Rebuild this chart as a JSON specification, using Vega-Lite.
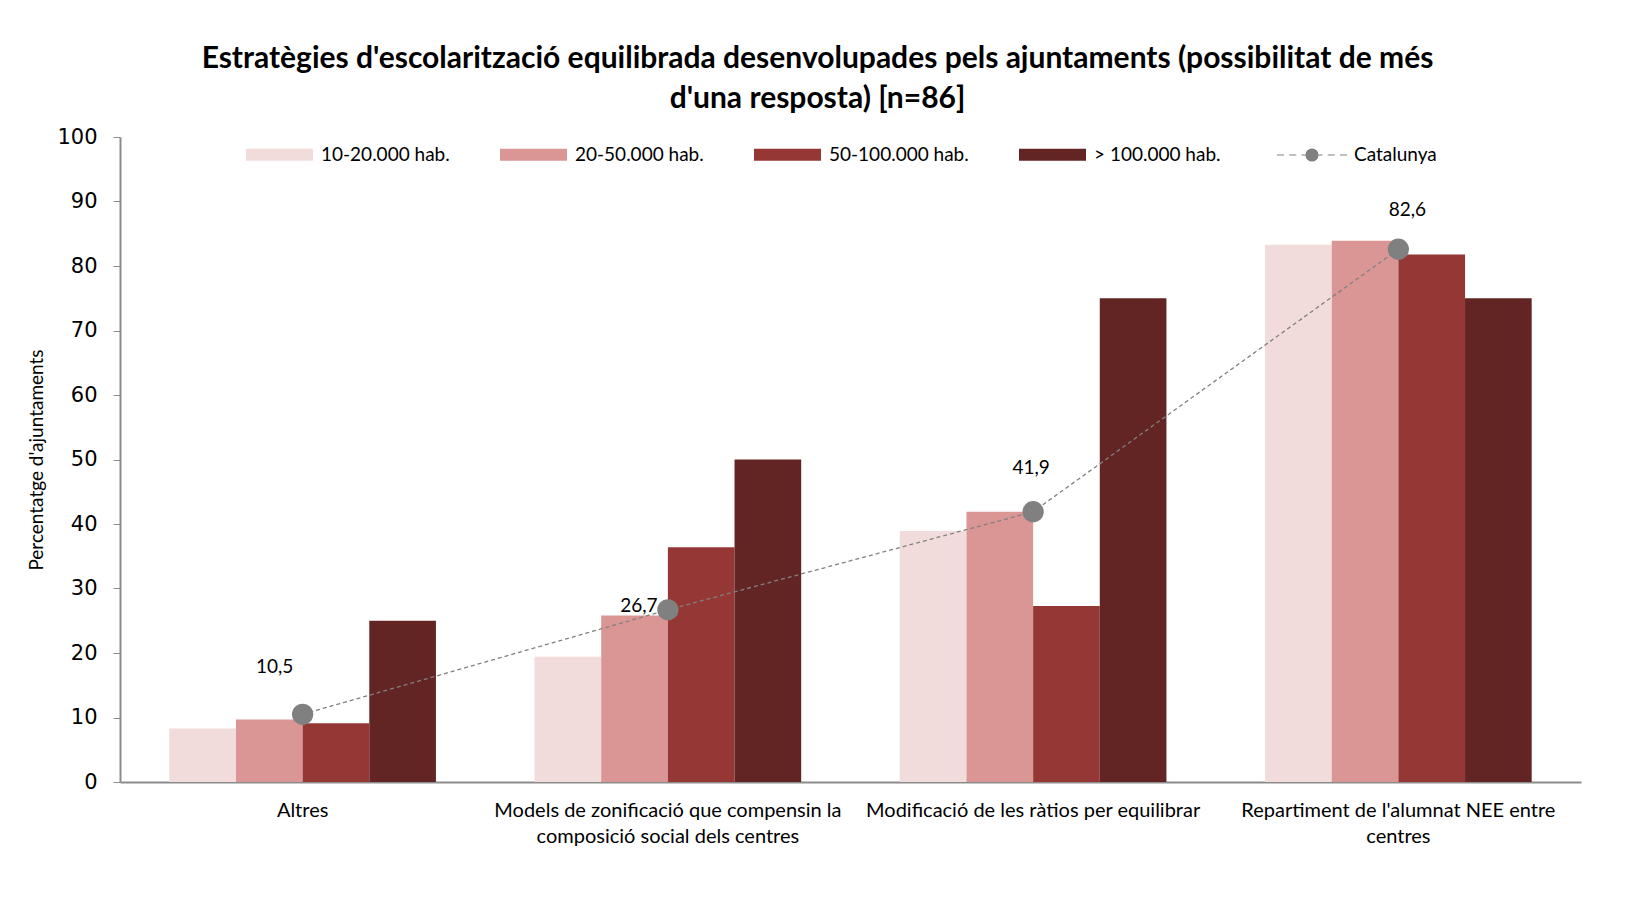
{
  "$schema": "https://vega.github.io/schema/vega-lite/v6.json",
  "width": 1461,
  "height": 645,
  "autosize": {"type": "none"},
  "padding": {"left": 120, "top": 137, "right": 47, "bottom": 122},
  "background": "white",
  "config": {
    "view": {"stroke": null},
    "locale": {"number": {"decimal": ",", "thousands": ".", "grouping": [3], "currency": ["", " €"]}},
    "font": "Lato"
  },
  "title": {
    "text": ["Estratègies d'escolarització equilibrada desenvolupades pels ajuntaments (possibilitat de més", "d'una resposta) [n=86]"],
    "font": "Lato",
    "fontSize": 30,
    "fontWeight": "bold",
    "color": "#000000",
    "lineHeight": 40,
    "anchor": "middle",
    "frame": "group",
    "dx": -33,
    "offset": 5
  },
  "datasets": {
    "bars": [
      {"estrategia": "Altres", "grup": "10-20.000 hab.", "valor": 8.3},
      {"estrategia": "Altres", "grup": "20-50.000 hab.", "valor": 9.7},
      {"estrategia": "Altres", "grup": "50-100.000 hab.", "valor": 9.1},
      {"estrategia": "Altres", "grup": "> 100.000 hab.", "valor": 25.0},
      {"estrategia": "Models de zonificació que compensin la composició social dels centres", "grup": "10-20.000 hab.", "valor": 19.4},
      {"estrategia": "Models de zonificació que compensin la composició social dels centres", "grup": "20-50.000 hab.", "valor": 25.8},
      {"estrategia": "Models de zonificació que compensin la composició social dels centres", "grup": "50-100.000 hab.", "valor": 36.4},
      {"estrategia": "Models de zonificació que compensin la composició social dels centres", "grup": "> 100.000 hab.", "valor": 50.0},
      {"estrategia": "Modificació de les ràtios per equilibrar", "grup": "10-20.000 hab.", "valor": 38.9},
      {"estrategia": "Modificació de les ràtios per equilibrar", "grup": "20-50.000 hab.", "valor": 41.9},
      {"estrategia": "Modificació de les ràtios per equilibrar", "grup": "50-100.000 hab.", "valor": 27.3},
      {"estrategia": "Modificació de les ràtios per equilibrar", "grup": "> 100.000 hab.", "valor": 75.0},
      {"estrategia": "Repartiment de l'alumnat NEE entre centres", "grup": "10-20.000 hab.", "valor": 83.3},
      {"estrategia": "Repartiment de l'alumnat NEE entre centres", "grup": "20-50.000 hab.", "valor": 83.9},
      {"estrategia": "Repartiment de l'alumnat NEE entre centres", "grup": "50-100.000 hab.", "valor": 81.8},
      {"estrategia": "Repartiment de l'alumnat NEE entre centres", "grup": "> 100.000 hab.", "valor": 75.0}
    ],
    "cat": [
      {"estrategia": "Altres", "serie": "Catalunya", "valor": 10.5},
      {"estrategia": "Models de zonificació que compensin la composició social dels centres", "serie": "Catalunya", "valor": 26.7},
      {"estrategia": "Modificació de les ràtios per equilibrar", "serie": "Catalunya", "valor": 41.9},
      {"estrategia": "Repartiment de l'alumnat NEE entre centres", "serie": "Catalunya", "valor": 82.6}
    ]
  },
  "encoding": {
    "x": {
      "field": "estrategia",
      "type": "nominal",
      "sort": null,
      "scale": {"paddingInner": 0.27, "paddingOuter": 0.135},
      "axis": {
        "title": null,
        "labelAngle": 0,
        "labelFont": "Lato",
        "labelFontSize": 20,
        "labelColor": "#000000",
        "labelPadding": 18,
        "labelLineHeight": 26,
        "labelLimit": 0,
        "labelBaseline": "top",
        "ticks": false,
        "domainColor": "#8c8c8c",
        "domainWidth": 2,
        "labelExpr": "indexof(datum.value, 'Models') == 0 ? ['Models de zonificació que compensin la', 'composició social dels centres'] : indexof(datum.value, 'Repartiment') == 0 ? [\"Repartiment de l'alumnat NEE entre\", 'centres'] : datum.value"
      }
    },
    "y": {
      "field": "valor",
      "type": "quantitative",
      "scale": {"domain": [0, 100], "nice": false},
      "axis": {
        "title": "Percentatge d'ajuntaments",
        "titleFont": "Lato",
        "titleFontSize": 19,
        "titleFontWeight": "normal",
        "titleColor": "#000000",
        "titlePadding": 10,
        "values": [0, 10, 20, 30, 40, 50, 60, 70, 80, 90, 100],
        "labelFont": "DejaVu Sans",
        "labelFontSize": 21,
        "labelColor": "#000000",
        "labelPadding": 16,
        "tickSize": 7,
        "tickColor": "#8c8c8c",
        "domainColor": "#8c8c8c",
        "domainWidth": 2,
        "grid": false
      }
    }
  },
  "layer": [
    {
      "data": {"name": "bars"},
      "mark": {"type": "bar", "strokeWidth": 0},
      "encoding": {
        "xOffset": {"field": "grup", "type": "nominal", "sort": ["10-20.000 hab.", "20-50.000 hab.", "50-100.000 hab.", "> 100.000 hab."]},
        "color": {
          "field": "grup",
          "type": "nominal",
          "scale": {
            "domain": ["10-20.000 hab.", "20-50.000 hab.", "50-100.000 hab.", "> 100.000 hab."],
            "range": ["#F2DCDB", "#D99694", "#953735", "#632523"]
          },
          "legend": {
            "orient": "none",
            "legendX": 126,
            "legendY": -16,
            "direction": "horizontal",
            "title": null,
            "symbolType": "M-1,-0.18H1V0.18H-1Z",
            "symbolSize": 4489,
            "symbolStrokeWidth": 0,
            "labelFont": "Lato",
            "labelFontSize": 19,
            "labelColor": "#000000",
            "labelOffset": 8,
            "columnPadding": 50
          }
        }
      }
    },
    {
      "data": {"name": "cat"},
      "mark": {"type": "line", "strokeDash": [4, 3], "strokeWidth": 1.3},
      "encoding": {
        "stroke": {
          "field": "serie",
          "type": "nominal",
          "scale": {"domain": ["Catalunya"], "range": ["#808080"]},
          "legend": {
            "orient": "none",
            "legendX": 1156,
            "legendY": -18,
            "title": null,
            "symbolType": "M-1,0H-0.8M-0.65,0H-0.45M-0.3,0H-0.17M0.17,0H0.3M0.45,0H0.65M0.8,0H1M-0.17,0A0.17,0.17 0 1,0 0.17,0A0.17,0.17 0 1,0 -0.17,0Z",
            "symbolSize": 4900,
            "symbolStrokeWidth": 1.2,
            "symbolFillColor": "#808080",
            "symbolDash": [],
            "labelFont": "Lato",
            "labelFontSize": 19,
            "labelColor": "#000000",
            "labelOffset": 6
          }
        }
      }
    },
    {
      "data": {"name": "cat"},
      "mark": {"type": "point", "filled": true, "size": 452, "color": "#808080", "opacity": 1},
      "encoding": {}
    },
    {
      "data": {"name": "cat"},
      "transform": [{"filter": "datum.valor == 10.5"}],
      "mark": {"type": "text", "font": "Lato", "fontSize": 19, "color": "#000000", "dx": -28, "dy": -47},
      "encoding": {"text": {"field": "valor", "type": "quantitative", "format": ".1f"}}
    },
    {
      "data": {"name": "cat"},
      "transform": [{"filter": "datum.valor == 26.7"}],
      "mark": {"type": "text", "font": "Lato", "fontSize": 19, "color": "#000000", "dx": -29, "dy": -4},
      "encoding": {"text": {"field": "valor", "type": "quantitative", "format": ".1f"}}
    },
    {
      "data": {"name": "cat"},
      "transform": [{"filter": "datum.valor == 41.9"}],
      "mark": {"type": "text", "font": "Lato", "fontSize": 19, "color": "#000000", "dx": -2, "dy": -44},
      "encoding": {"text": {"field": "valor", "type": "quantitative", "format": ".1f"}}
    },
    {
      "data": {"name": "cat"},
      "transform": [{"filter": "datum.valor == 82.6"}],
      "mark": {"type": "text", "font": "Lato", "fontSize": 19, "color": "#000000", "dx": 9, "dy": -39},
      "encoding": {"text": {"field": "valor", "type": "quantitative", "format": ".1f"}}
    }
  ]
}
